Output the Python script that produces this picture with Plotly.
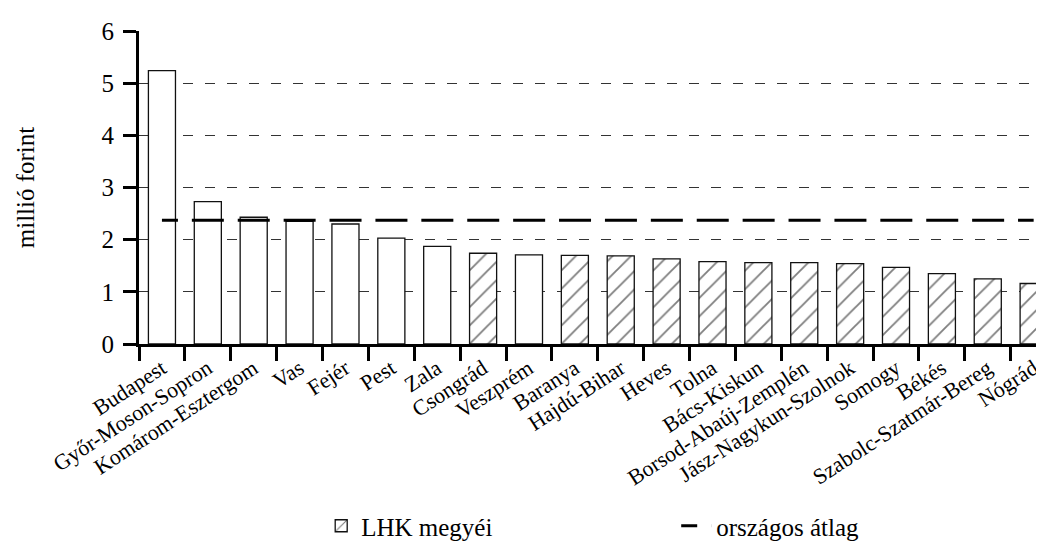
import plotly.graph_objects as go

categories = ["Budapest", "Győr-Moson-Sopron", "Komárom-Esztergom", "Vas", "Fejér",
              "Pest", "Zala", "Csongrád", "Veszprém", "Baranya", "Hajdú-Bihar", "Heves",
              "Tolna", "Bács-Kiskun", "Borsod-Abaúj-Zemplén", "Jász-Nagykun-Szolnok",
              "Somogy", "Békés", "Szabolc-Szatmár-Bereg", "Nógrád"]
values = [5.24, 2.73, 2.43, 2.35, 2.30, 2.03, 1.87, 1.74, 1.71, 1.70, 1.69, 1.63,
          1.58, 1.56, 1.56, 1.54, 1.47, 1.35, 1.25, 1.16]
lhk = [False, False, False, False, False, False, False, True, False, True, True, True,
       True, True, True, True, True, True, True, True]
national_avg = 2.37
y_ticks = [0, 1, 2, 3, 4, 5, 6]

FONT = "Liberation Serif, Times New Roman, Times, serif"

x_plain = [c for c, f in zip(categories, lhk) if not f]
y_plain = [v for v, f in zip(values, lhk) if not f]
x_lhk = [c for c, f in zip(categories, lhk) if f]
y_lhk = [v for v, f in zip(values, lhk) if f]

fig = go.Figure()
fig.add_trace(go.Bar(
    x=x_plain, y=y_plain, width=0.59, showlegend=False, name="",
    marker=dict(color="white", line=dict(color="#111", width=1.3)),
))
fig.add_trace(go.Bar(
    x=x_lhk, y=y_lhk, width=0.59, name="LHK megyéi",
    marker=dict(color="white", line=dict(color="#111", width=1.3),
                pattern=dict(shape="/", fgcolor="black", bgcolor="white",
                             size=13, solidity=0.14)),
))
fig.add_trace(go.Scatter(
    x=categories, y=[national_avg] * len(categories), mode="lines",
    name="országos átlag",
    line=dict(color="black", width=3, dash="16px,13.9px,16px,0px"),
))

fig.update_layout(
    width=1044, height=541, autosize=False,
    margin=dict(l=131, r=0, t=23, b=205),
    paper_bgcolor="white", plot_bgcolor="white",
    barmode="overlay",
    font=dict(family=FONT, color="black", size=22),
    legend=dict(orientation="h", xref="container", yref="container",
                x=0.30, xanchor="left", y=0.0, yanchor="bottom",
                entrywidth=310, entrywidthmode="pixels",
                font=dict(family=FONT, size=25, color="black"),
                bgcolor="rgba(0,0,0,0)"),
)
fig.update_xaxes(
    type="category", categoryorder="array", categoryarray=categories,
    range=[-0.5, 19.4], showline=True, linecolor="black", linewidth=3,
    ticks="outside", tickson="boundaries", ticklen=14, tickwidth=2.5, tickcolor="black",
    tickangle=-33, tickfont=dict(family=FONT, size=22, color="black"),
    showgrid=False, zeroline=False, automargin=False,
)
fig.update_yaxes(
    range=[0, 6], tickvals=y_ticks, showline=True, linecolor="black", linewidth=3,
    ticks="outside", ticklen=13, tickwidth=2.5, tickcolor="black",
    tickfont=dict(family=FONT, size=25, color="black"), ticklabelstandoff=4,
    showgrid=True, gridcolor="#333", gridwidth=1.4, griddash="10px,12px",
    zeroline=False, automargin=False,
    title=dict(text="millió forint", font=dict(family=FONT, size=25, color="black"),
               standoff=60),
)

fig.write_html("out.html")
